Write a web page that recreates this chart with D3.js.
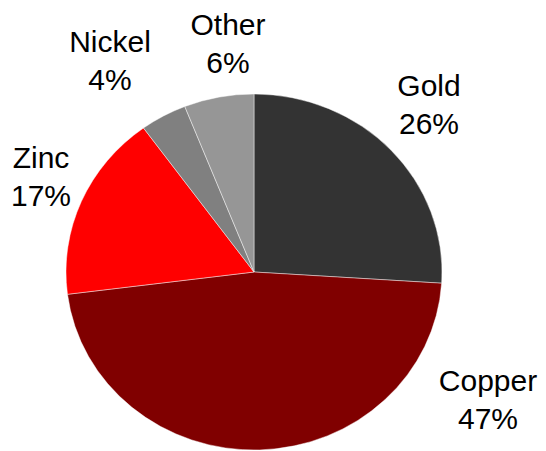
<!DOCTYPE html>
<html>
<head>
<meta charset="utf-8">
<script src="https://cdn.jsdelivr.net/npm/d3@7"></script>
<style>
  html, body { margin: 0; padding: 0; background: #fff; }
  svg { display: block; }
  text { font-family: "Liberation Sans", Arial, sans-serif; font-size: 30px; fill: #000; }
</style>
</head>
<body>
<svg id="chart" width="546" height="451"></svg>
<script>
// Data
const categories = ["Gold", "Copper", "Zinc", "Nickel", "Other"];
const shares = [26, 47, 17, 4, 6];
const colors = ["#333333", "#800000", "#FF0000", "#808080", "#969696"];

// Layout (label anchor points, text centre / first baseline)
const labelAnchors = [[429, 96], [488, 391], [41, 168], [110, 52], [228, 35]];
const lineGap = 38;

const W = 546, H = 451;
const cx = 254, cy = 272, rx = 188, ry = 178;

const svg = d3.select("#chart");
const data = categories.map((c, i) => ({ name: c, value: shares[i], color: colors[i], anchor: labelAnchors[i] }));

const pie = d3.pie().sort(null).value(d => d.value).startAngle(0).endAngle(2 * Math.PI);
const arc = d3.arc().innerRadius(0).outerRadius(rx);

const g = svg.append("g").attr("transform", `translate(${cx},${cy}) scale(1,${ry / rx})`);
g.selectAll("path")
  .data(pie(data))
  .join("path")
  .attr("d", arc)
  .attr("fill", d => d.data.color)
  .attr("stroke", "#ffffff")
  .attr("stroke-opacity", 0.6)
  .attr("stroke-width", 0.75)
  .attr("vector-effect", "non-scaling-stroke");

const total = d3.sum(shares);
const fmt = v => Math.round(v / total * 100) + "%";

const labels = svg.append("g").selectAll("text")
  .data(data)
  .join("text")
  .attr("text-anchor", "middle")
  .attr("x", d => d.anchor[0])
  .attr("y", d => d.anchor[1]);
labels.append("tspan").attr("x", d => d.anchor[0]).text(d => d.name);
labels.append("tspan").attr("x", d => d.anchor[0]).attr("dy", lineGap).text(d => fmt(d.value));
</script>
</body>
</html>
